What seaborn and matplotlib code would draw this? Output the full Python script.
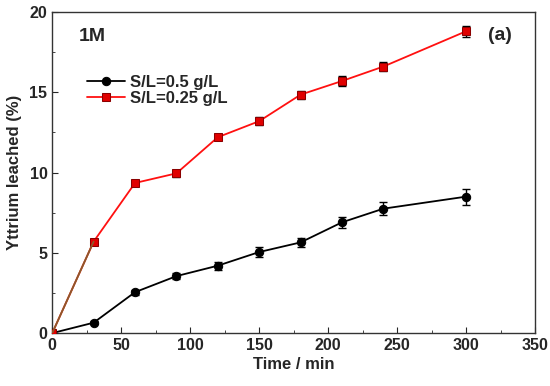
import numpy as np
import pandas as pd
import matplotlib
matplotlib.use("Agg")
import matplotlib.pyplot as plt
from matplotlib.ticker import MultipleLocator
import seaborn as sns

time = [0, 30, 60, 90, 120, 150, 180, 210, 240, 300]
sl05 = [0.0, 0.65, 2.55, 3.55, 4.2, 5.05, 5.65, 6.9, 7.75, 8.5]
sl05_err = [0.05, 0.1, 0.15, 0.2, 0.25, 0.3, 0.3, 0.35, 0.4, 0.5]
sl025 = [0.0, 5.7, 9.35, 9.95, 12.2, 13.2, 14.85, 15.7, 16.6, 18.8]
sl025_err = [0.05, 0.15, 0.15, 0.2, 0.2, 0.25, 0.25, 0.3, 0.3, 0.35]
labels = ["S/L=0.5 g/L", "S/L=0.25 g/L"]

sns.set_style("ticks")
plt.rcParams['font.family'] = ['Liberation Sans', 'DejaVu Sans']
plt.rcParams['font.weight'] = 'bold'

df = pd.DataFrame({
    "Time": time * 2,
    "Y": sl05 + sl025,
    "Series": [labels[0]] * len(time) + [labels[1]] * len(time),
})

fig, ax = plt.subplots(figsize=(5.5, 3.86), dpi=100)
fig.subplots_adjust(left=0.095, right=0.973, top=0.969, bottom=0.137)

ax.errorbar(time, sl05, yerr=sl05_err, fmt='none', ecolor='black', elinewidth=1, capsize=3, capthick=1, zorder=3)
ax.errorbar(time, sl025, yerr=sl025_err, fmt='none', ecolor='black', elinewidth=1, capsize=3, capthick=1, zorder=3)

sns.lineplot(data=df, x="Time", y="Y", hue="Series", style="Series",
             palette={labels[0]: "black", labels[1]: "#ff1010"},
             markers={labels[0]: "o", labels[1]: "s"},
             dashes=False, markersize=6, linewidth=1.3, ax=ax, zorder=4)

for line in ax.lines:
    if line.get_color() == "#ff1010":
        line.set_markeredgecolor("#8b0000")
        line.set_markerfacecolor("#e00000")
    elif line.get_color() == "black":
        line.set_markeredgecolor("black")

# brownish first segment of red series (as in reference)
ax.plot(time[:2], sl025[:2], color="#8b5a2b", linewidth=1.3, zorder=4.5)

ax.set_xlim(0, 350)
ax.set_ylim(0, 20)
ax.xaxis.set_major_locator(MultipleLocator(50))
ax.xaxis.set_minor_locator(MultipleLocator(25))
ax.yaxis.set_major_locator(MultipleLocator(5))
ax.yaxis.set_minor_locator(MultipleLocator(2.5))
ax.tick_params(which='both', direction='in', top=False, right=False, labelsize=11.5)
ax.tick_params(which='major', length=4)
ax.tick_params(which='minor', length=2.5)
for lab in ax.get_xticklabels() + ax.get_yticklabels():
    lab.set_fontweight('bold')
for sp in ax.spines.values():
    sp.set_visible(True)
    sp.set_linewidth(1)
    sp.set_color('#333333')

ax.set_xlabel("Time / min", fontsize=12, fontweight='bold', labelpad=3)
ax.set_ylabel("Yttrium leached (%)", fontsize=12, fontweight='bold', labelpad=5)

ax.text(0.054, 0.924, "1M", transform=ax.transAxes, fontsize=14, fontweight='bold', va='center')
ax.text(0.903, 0.926, "(a)", transform=ax.transAxes, fontsize=14, fontweight='bold', va='center')

leg = ax.legend(loc='upper left', bbox_to_anchor=(0.072, 0.803), frameon=False,
                fontsize=12, handlelength=2.3, handletextpad=0.3, labelspacing=0.05,
                borderaxespad=0, borderpad=0)
for t in leg.get_texts():
    t.set_fontweight('bold')

fig.savefig("out.png", dpi=100)
